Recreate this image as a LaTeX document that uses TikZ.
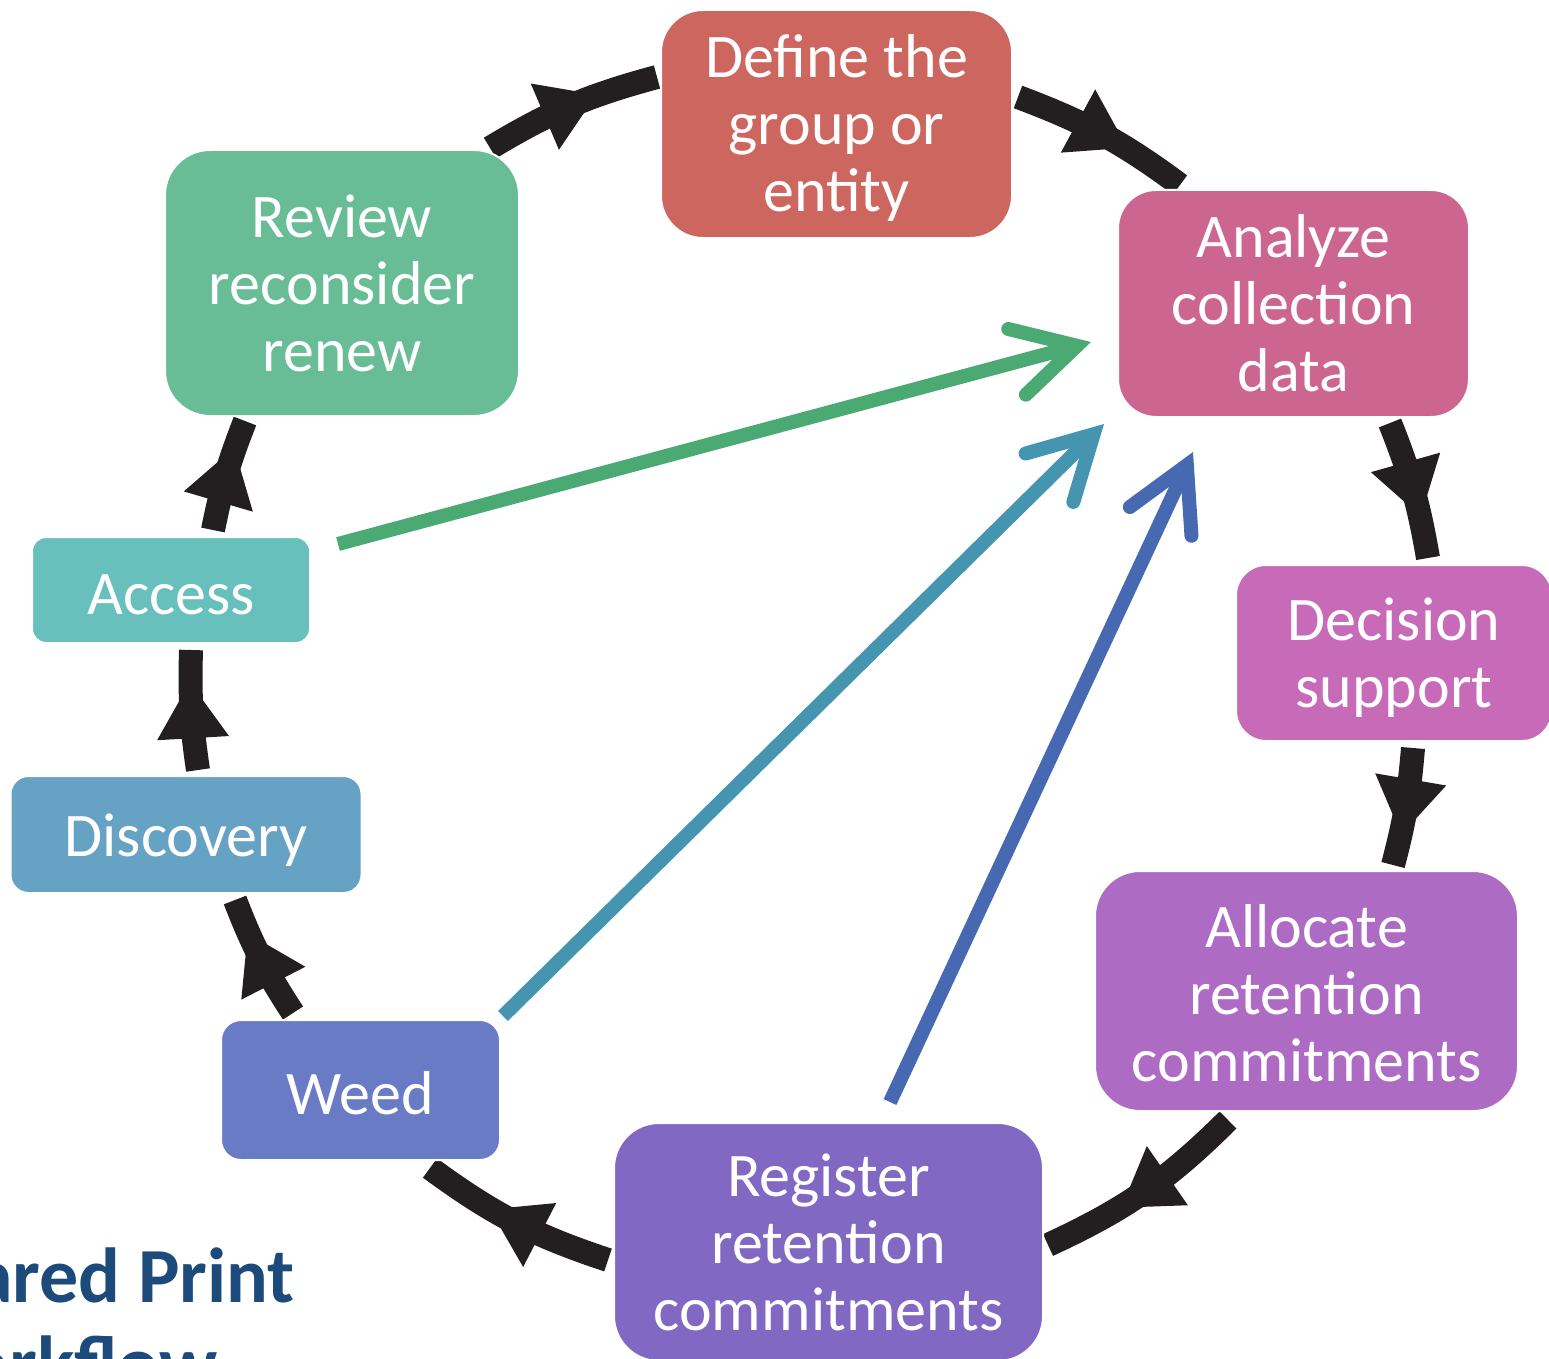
\documentclass[tikz,border=0pt]{standalone}
\usepackage{fontspec}
\setmainfont{Carlito}
\usetikzlibrary{arrows.meta,decorations.markings,backgrounds}
\definecolor{cDefine}{HTML}{CD665F}
\definecolor{cAnalyze}{HTML}{CC6690}
\definecolor{cDecision}{HTML}{C76BB9}
\definecolor{cAllocate}{HTML}{AD6BC3}
\definecolor{cRegister}{HTML}{8168C2}
\definecolor{cWeed}{HTML}{6A7BC6}
\definecolor{cDiscovery}{HTML}{66A2C4}
\definecolor{cAccess}{HTML}{67C0BB}
\definecolor{cReview}{HTML}{68BC96}
\definecolor{fGreen}{HTML}{4BAA73}
\definecolor{fTeal}{HTML}{4595B1}
\definecolor{fBlue}{HTML}{4769B2}
\definecolor{arcblack}{HTML}{231F20}
\definecolor{titleblue}{HTML}{1C4A7A}
\newcommand{\lowtext}[2]{\raisebox{-#1}[\height][\depth]{#2}}
\tikzset{
  cbox/.style={rectangle, rounded corners=#1, draw=white, line width=2pt, text=white,
    align=center, inner sep=0pt, font=\fontsize{62}{67}\selectfont},
  cyc/.style={line width=24pt, draw=arcblack, postaction={decorate},
    decoration={markings, mark=at position #1 with
      {\fill[arcblack] (-28pt,36pt) -- (28pt,0pt) -- (-28pt,-36pt) -- cycle;}}},
  feed/.style={line width=14pt, line cap=butt,
    -{Straight Barb[length=62pt,width=68pt,line cap=round,line join=miter]}},
  ttl/.style={anchor=base east, text=titleblue, inner sep=0pt,
    font=\fontsize{78}{90}\selectfont\bfseries}
}
\begin{document}
\begin{tikzpicture}[x=1pt,y=1pt]
\useasboundingbox (0,-1359) rectangle (1549,0);

% boxes
\node[cbox=42pt, fill=cDefine, minimum width=351pt, minimum height=228pt] (define) at (836.5,-124) {\lowtext{4pt}{\parbox{340pt}{\centering Define the\\group or\\entity}}};
\node[cbox=38pt, fill=cAnalyze, minimum width=351pt, minimum height=227pt] (analyze) at (1293.5,-303.5) {\parbox{340pt}{\centering Analyze\\collection\\data}};
\node[cbox=30pt, fill=cDecision, minimum width=316pt, minimum height=176pt] (decision) at (1394,-653) {\lowtext{5pt}{\parbox{310pt}{\centering Decision\\support}}};
\node[cbox=45pt, fill=cAllocate, minimum width=423pt, minimum height=240pt] (allocate) at (1306.5,-991) {\lowtext{2pt}{\parbox{410pt}{\centering Allocate\\retention\\commitments}}};
\node[cbox=45pt, fill=cRegister, minimum width=429pt, minimum height=238pt] (register) at (828.5,-1242) {\parbox{420pt}{\centering Register\\retention\\commitments}};
\node[cbox=20pt, fill=cWeed, minimum width=279pt, minimum height=140pt] (weed) at (360.5,-1090) {\lowtext{3pt}{Weed}};
\node[cbox=18pt, fill=cDiscovery, minimum width=351pt, minimum height=117pt] (discovery) at (186,-834.5) {\lowtext{6pt}{Discovery}};
\node[cbox=14pt, fill=cAccess, minimum width=278pt, minimum height=106pt] (access) at (171,-590) {\lowtext{5pt}{Access}};
\node[cbox=45pt, fill=cReview, minimum width=354pt, minimum height=266pt] (review) at (342,-283) {\parbox{345pt}{\centering Review\\reconsider\\renew}};

% title (partly outside the page)
\node[ttl] (title1) at (295,-1302) {Shared Print};
\node[ttl] (title2) at (218,-1390) {Workflow};

% arc end points
\coordinate (a1s) at (490,-148);  \coordinate (a1e) at (657,-77);
\coordinate (a2s) at (1018,-97);  \coordinate (a2e) at (1180,-185);
\coordinate (a3s) at (1390,-423); \coordinate (a3e) at (1428,-558);
\coordinate (a4s) at (1413,-748); \coordinate (a4e) at (1393,-865);
\coordinate (a5s) at (1228,-1120); \coordinate (a5e) at (1048,-1245);
\coordinate (a6s) at (608,-1260); \coordinate (a6e) at (430,-1168);
\coordinate (a7s) at (293,-1013); \coordinate (a7e) at (235,-900);
\coordinate (a8s) at (198,-770);  \coordinate (a8e) at (191,-650);
\coordinate (a9s) at (213,-530);  \coordinate (a9e) at (245,-421);

\begin{scope}[on background layer]
\draw[cyc=0.5] (a1s) to[bend left=8] (a1e);
\draw[cyc=0.5] (a2s) to[bend left=8] (a2e);
\draw[cyc=0.5] (a3s) to[bend left=6] (a3e);
\draw[cyc=0.5] (a4s) to[bend left=5] (a4e);
\draw[cyc=0.5] (a5s) to[bend left=10] (a5e);
\draw[cyc=0.5] (a6s) to[bend left=9] (a6e);
\draw[cyc=0.5] (a7s) to[bend left=6] (a7e);
\draw[cyc=0.5] (a8s) to[bend left=5] (a8e);
\draw[cyc=0.5] (a9s) to[bend left=5] (a9e);
\end{scope}

% feedback arrows
\coordinate (gS) at (338,-544);  \coordinate (gE) at (1091,-342);
\coordinate (tS) at (503,-1016); \coordinate (tE) at (1104,-424);
\coordinate (bS) at (890,-1102); \coordinate (bE) at (1193,-452);
\draw[feed, draw=fGreen] (gS) -- (gE);
\draw[feed, draw=fTeal] (tS) -- (tE);
\draw[feed, draw=fBlue] (bS) -- (bE);
\end{tikzpicture}
\end{document}
